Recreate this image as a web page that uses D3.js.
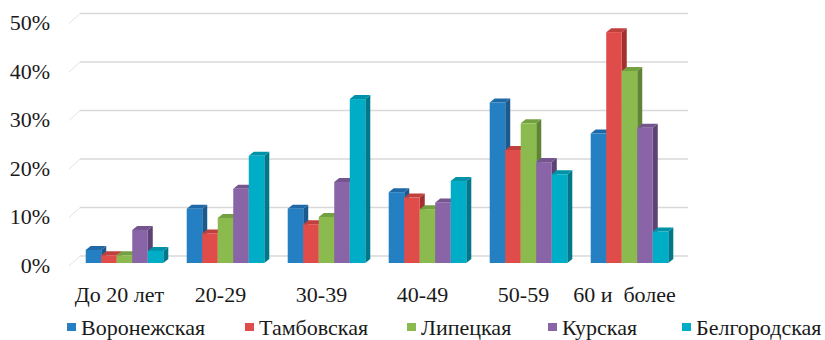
<!DOCTYPE html>
<html>
<head>
<meta charset="utf-8">
<script src="https://cdn.jsdelivr.net/npm/d3@7"></script>
<style>
  body { margin: 0; background: #fff; }
</style>
</head>
<body>
<script>
var categories = ["До 20 лет", "20-29", "30-39", "40-49", "50-59", "60 и  более"];
var regions = ["Воронежская", "Тамбовская", "Липецкая", "Курская", "Белгородская"];
// percent per age group, one array per region
var voronezh = [2.7, 11.2, 11.2, 14.6, 33.1, 26.7];
var tambov   = [1.6, 6.1, 8.0, 13.5, 23.3, 47.6];
var lipetsk  = [1.6, 9.3, 9.5, 11.1, 28.8, 39.6];
var kursk    = [6.8, 15.3, 16.7, 12.5, 20.8, 27.9];
var belgorod = [2.5, 22.1, 33.8, 16.9, 18.3, 6.5];
var yTicks = [0, 10, 20, 30, 40, 50];

var seriesValues = [voronezh, tambov, lipetsk, kursk, belgorod];
var frontColors = ["#2580c3", "#e04c49", "#8bbb4e", "#8964a6", "#00adc7"];
var topColors   = ["#1f6aa6", "#c0403d", "#73a040", "#74558d", "#0093a8"];
var sideColors  = ["#1a5a8e", "#a3302e", "#5f8434", "#5c4373", "#00788a"];
var legendX = [67, 245, 407, 548, 682];
var font = "'Liberation Serif', 'DejaVu Serif', serif";

var svg_width = 825;
var svg_height = 340;
var depth_x = 5, depth_y = -4;      // bar depth
var wall_x = 11, wall_y = -10;      // floor depth for gridlines

var svg = d3.select("body").append("svg")
    .attr("width", svg_width)
    .attr("height", svg_height)
    .attr("font-family", font);

var y = d3.scaleLinear().domain([0, 50]).range([263, 20.5]);
var x0 = d3.scaleBand().domain(categories).range([74, 680])
    .paddingInner(0.232).paddingOuter(0.116);
var x1 = d3.scaleBand().domain(regions).range([0, x0.bandwidth()]);

//---gridlines on back wall plus the short diagonal on the left side
var grid = svg.append("g");
yTicks.forEach(function(t)
{
    grid.append("line")
        .attr("x1", 69 + wall_x).attr("x2", 688)
        .attr("y1", y(t) - 7).attr("y2", y(t) - 7)
        .style("stroke", "#d9d9d9").style("stroke-width", 1.5);
    grid.append("line")
        .attr("x1", 69).attr("y1", y(t) + 3)
        .attr("x2", 69 + wall_x).attr("y2", y(t) + 3 + wall_y)
        .style("stroke", "#e3e3e3").style("stroke-width", 1);
});

svg.append("g").selectAll("text")
    .data(yTicks)
    .enter()
    .append("text")
    .attr("x", 50)
    .attr("y", function(d) { return y(d) + 2; })
    .attr("dy", "0.35em")
    .attr("text-anchor", "end")
    .attr("font-family", font)
    .style("font-size", "22px")
    .style("fill", "#1a1a1a")
    .text(function(d) { return d + "%"; });

//---bars, drawn left to right so each front hides the previous side
var bars = svg.append("g");
categories.forEach(function(c, ci)
{
    regions.forEach(function(r, si)
    {
        var v = seriesValues[si][ci];
        var bx = x0(c) + x1(r);
        var w = x1.bandwidth();
        var t = y(v);
        var b = y(0);
        bars.append("polygon")
            .attr("points", [[bx + w, t], [bx + w + depth_x, t + depth_y], [bx + w + depth_x, b + depth_y], [bx + w, b]].join(" "))
            .style("fill", sideColors[si]);
        bars.append("polygon")
            .attr("points", [[bx, t], [bx + depth_x, t + depth_y], [bx + w + depth_x, t + depth_y], [bx + w, t]].join(" "))
            .style("fill", topColors[si]);
        bars.append("rect")
            .attr("x", bx).attr("y", t)
            .attr("width", w).attr("height", b - t)
            .style("fill", frontColors[si]);
    });
});

svg.append("g").selectAll("text")
    .data(categories)
    .enter()
    .append("text")
    .attr("x", function(d) { return x0(d) + x0.bandwidth() / 2 - 5; })
    .attr("y", 302)
    .attr("text-anchor", "middle")
    .attr("font-family", font)
    .style("font-size", "22px")
    .style("fill", "#1a1a1a")
    .style("white-space", "pre")
    .text(function(d) { return d; });

var legend = svg.append("g");
regions.forEach(function(r, i)
{
    legend.append("rect")
        .attr("x", legendX[i]).attr("y", 323)
        .attr("width", 9).attr("height", 8)
        .style("fill", frontColors[i]);
    legend.append("text")
        .attr("x", legendX[i] + 14).attr("y", 335)
        .attr("font-family", font)
        .style("font-size", "22px")
        .style("fill", "#1a1a1a")
        .text(r);
});
</script>
</body>
</html>
